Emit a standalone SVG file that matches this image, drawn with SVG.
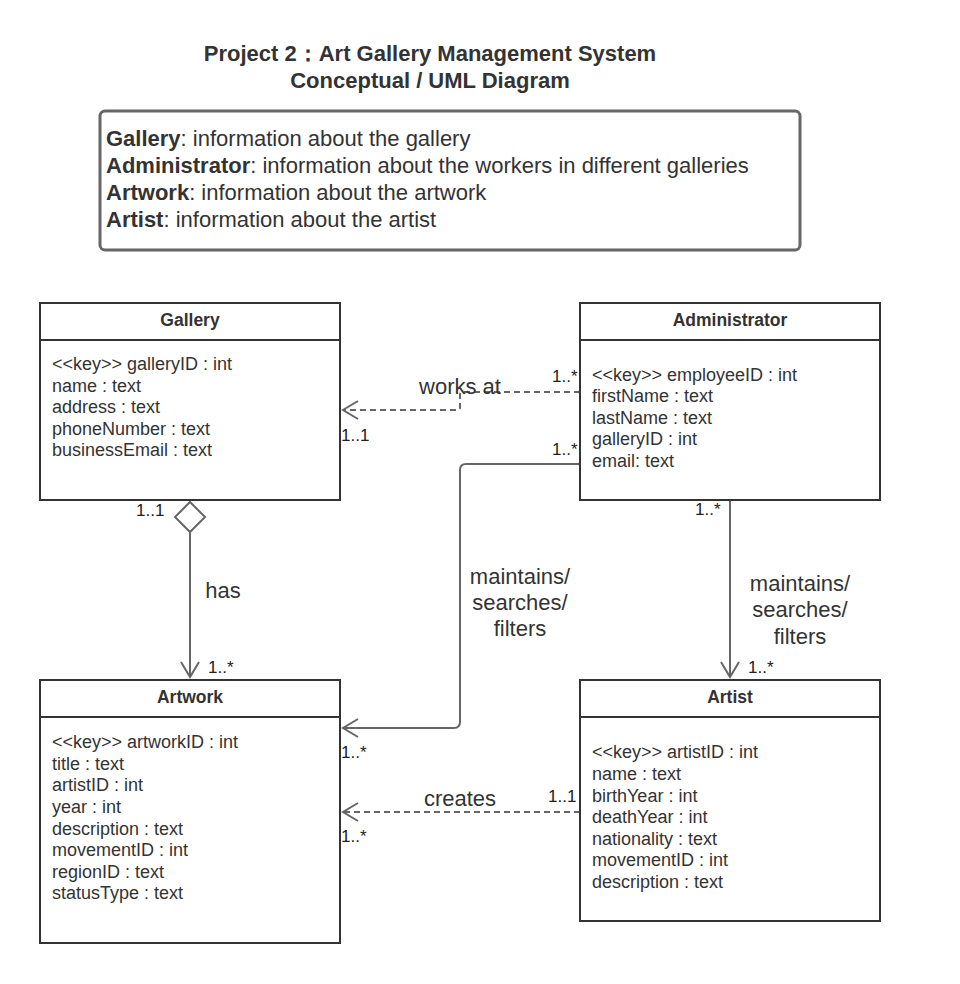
<svg xmlns="http://www.w3.org/2000/svg" width="960" height="984" viewBox="0 0 960 984">
<defs>
<style>
text{font-family:"Liberation Sans",Arial,sans-serif;fill:#333}
.title{font-size:22px;font-weight:bold}
.legend{font-size:22px}
.cls rect{fill:#fff;stroke:#333;stroke-width:2}
.cls line{stroke:#333;stroke-width:2}
.cname{font-size:17.5px;font-weight:bold;text-anchor:middle}
.attr{font-size:18px}
.mult{font-size:17px;fill:#222}
.lbl{font-size:22px;text-anchor:middle}
.solid{fill:none;stroke:#666;stroke-width:2}
.dash{fill:none;stroke:#666;stroke-width:2;stroke-dasharray:6,4}
.head{fill:none;stroke:#666;stroke-width:2}
</style>
</defs>
<rect width="960" height="984" fill="#fff"/>
<g id="title">
<text class="title" x="430" y="61" text-anchor="middle">Project 2：Art Gallery Management System</text>
<text class="title" x="430" y="88" text-anchor="middle">Conceptual / UML Diagram</text>
</g>
<g id="legend">
<rect x="100" y="111" width="700" height="139" rx="5" fill="#fff" stroke="#666" stroke-width="3"/>
<text class="legend" x="106" y="146"><tspan font-weight="bold">Gallery</tspan>: information about the gallery</text>
<text class="legend" x="106" y="173"><tspan font-weight="bold">Administrator</tspan>: information about the workers in different galleries</text>
<text class="legend" x="106" y="200"><tspan font-weight="bold">Artwork</tspan>: information about the artwork</text>
<text class="legend" x="106" y="227"><tspan font-weight="bold">Artist</tspan>: information about the artist</text>
</g>
<g id="connectors">
<path class="dash" d="M580,392 H462 Q460,392 460,395 V408 Q460,410 457,410 H343"/>
<polyline class="head" points="358,401 343,410 358,419"/>
<path class="solid" d="M580,464 H466 Q460,464 460,470 V722 Q460,728 454,728 H343"/>
<polyline class="head" points="358,719 343,728 358,737"/>
<path class="solid" d="M730,500 V677"/>
<polyline class="head" points="721,662 730,677 739,662"/>
<polygon points="190,502 205,517 190,532 175,517" fill="#fff" stroke="#666" stroke-width="2"/>
<path class="solid" d="M190,532 V677"/>
<polyline class="head" points="181,662 190,677 199,662"/>
<path class="dash" d="M580,812 H343"/>
<polyline class="head" points="358,803 343,812 358,821"/>
<text class="lbl" x="460" y="394">works at</text>
<text class="lbl" x="520" y="584">maintains/</text>
<text class="lbl" x="520" y="610">searches/</text>
<text class="lbl" x="520" y="636">filters</text>
<text class="lbl" x="800" y="591">maintains/</text>
<text class="lbl" x="800" y="617">searches/</text>
<text class="lbl" x="800" y="644">filters</text>
<text class="lbl" x="223" y="598">has</text>
<text class="lbl" x="460" y="806">creates</text>
<text class="mult" x="552" y="382">1..*</text>
<text class="mult" x="341" y="441">1..1</text>
<text class="mult" x="552" y="455">1..*</text>
<text class="mult" x="341" y="758">1..*</text>
<text class="mult" x="695" y="515">1..*</text>
<text class="mult" x="748" y="673">1..*</text>
<text class="mult" x="136" y="516">1..1</text>
<text class="mult" x="208" y="673">1..*</text>
<text class="mult" x="548" y="802">1..1</text>
<text class="mult" x="341" y="842">1..*</text>
</g>
<g id="gallery" class="cls">
<rect x="40" y="303" width="300" height="197"/>
<line x1="40" y1="340" x2="340" y2="340"/>
<text class="cname" x="190" y="326">Gallery</text>
<text class="attr" x="52" y="370">&lt;&lt;key&gt;&gt; galleryID : int</text>
<text class="attr" x="52" y="392">name : text</text>
<text class="attr" x="52" y="413">address : text</text>
<text class="attr" x="52" y="435">phoneNumber : text</text>
<text class="attr" x="52" y="456">businessEmail : text</text>
</g>
<g id="administrator" class="cls">
<rect x="580" y="303" width="300" height="197"/>
<line x1="580" y1="340" x2="880" y2="340"/>
<text class="cname" x="730" y="326">Administrator</text>
<text class="attr" x="592" y="381">&lt;&lt;key&gt;&gt; employeeID : int</text>
<text class="attr" x="592" y="402">firstName : text</text>
<text class="attr" x="592" y="424">lastName : text</text>
<text class="attr" x="592" y="445">galleryID : int</text>
<text class="attr" x="592" y="467">email: text</text>
</g>
<g id="artwork" class="cls">
<rect x="40" y="680" width="300" height="263"/>
<line x1="40" y1="717" x2="340" y2="717"/>
<text class="cname" x="190" y="703">Artwork</text>
<text class="attr" x="52" y="748">&lt;&lt;key&gt;&gt; artworkID : int</text>
<text class="attr" x="52" y="770">title : text</text>
<text class="attr" x="52" y="791">artistID : int</text>
<text class="attr" x="52" y="813">year : int</text>
<text class="attr" x="52" y="835">description : text</text>
<text class="attr" x="52" y="856">movementID : int</text>
<text class="attr" x="52" y="878">regionID : text</text>
<text class="attr" x="52" y="899">statusType : text</text>
</g>
<g id="artist" class="cls">
<rect x="580" y="680" width="300" height="241"/>
<line x1="580" y1="717" x2="880" y2="717"/>
<text class="cname" x="730" y="703">Artist</text>
<text class="attr" x="592" y="758">&lt;&lt;key&gt;&gt; artistID : int</text>
<text class="attr" x="592" y="780">name : text</text>
<text class="attr" x="592" y="802">birthYear : int</text>
<text class="attr" x="592" y="823">deathYear : int</text>
<text class="attr" x="592" y="845">nationality : text</text>
<text class="attr" x="592" y="866">movementID : int</text>
<text class="attr" x="592" y="888">description : text</text>
</g>
</svg>
